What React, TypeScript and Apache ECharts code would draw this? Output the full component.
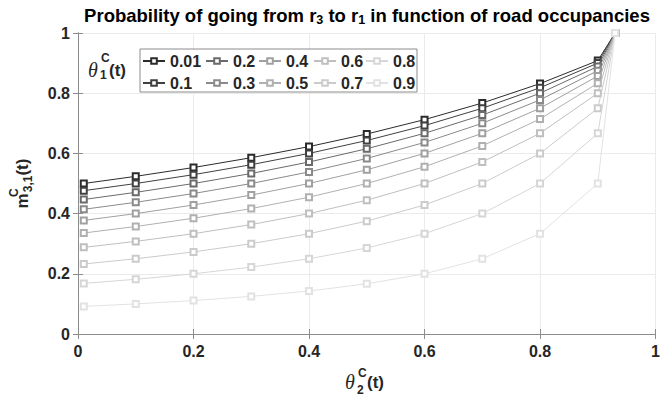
import React, { useEffect, useRef } from "react";
import * as echarts from "echarts";

const thetaLabels = ["0.01", "0.1", "0.2", "0.3", "0.4", "0.5", "0.6", "0.7", "0.8", "0.9"];
const xValues = [0.01, 0.1, 0.2, 0.3, 0.4, 0.5, 0.6, 0.7, 0.8, 0.9, 0.93];
const xTickLabels = ["0", "0.2", "0.4", "0.6", "0.8", "1"];
const yTickLabels = ["0", "0.2", "0.4", "0.6", "0.8", "1"];

const m001 = [0.5, 0.5238, 0.5531, 0.5858, 0.6226, 0.6644, 0.7122, 0.7674, 0.8319, 0.9083, 1];
const m01 = [0.4762, 0.5, 0.5294, 0.5625, 0.6, 0.6429, 0.6923, 0.75, 0.8182, 0.9, 1];
const m02 = [0.4469, 0.4706, 0.5, 0.5333, 0.5714, 0.6154, 0.6667, 0.7273, 0.8, 0.8889, 1];
const m03 = [0.4142, 0.4375, 0.4667, 0.5, 0.5385, 0.5833, 0.6364, 0.7, 0.7778, 0.875, 1];
const m04 = [0.3774, 0.4, 0.4286, 0.4615, 0.5, 0.5455, 0.6, 0.6667, 0.75, 0.8571, 1];
const m05 = [0.3356, 0.3571, 0.3846, 0.4167, 0.4545, 0.5, 0.5556, 0.625, 0.7143, 0.8333, 1];
const m06 = [0.2878, 0.3077, 0.3333, 0.3636, 0.4, 0.4444, 0.5, 0.5714, 0.6667, 0.8, 1];
const m07 = [0.2326, 0.25, 0.2727, 0.3, 0.3333, 0.375, 0.4286, 0.5, 0.6, 0.75, 1];
const m08 = [0.1681, 0.1818, 0.2, 0.2222, 0.25, 0.2857, 0.3333, 0.4, 0.5, 0.6667, 1];
const m09 = [0.0917, 0.1, 0.1111, 0.125, 0.1429, 0.1667, 0.2, 0.25, 0.3333, 0.5, 1];

const seriesValues = [m001, m01, m02, m03, m04, m05, m06, m07, m08, m09];
const lineColors = ["#2b2b2b", "#404040", "#6a6a6a", "#8a8a8a", "#a0a0a0", "#b0b0b0", "#bfbfbf", "#cbcbcb", "#d6d6d6", "#e2e2e2"];

const legendColumns = [["0.01", "0.1"], ["0.2", "0.3"], ["0.4", "0.5"], ["0.6", "0.7"], ["0.8", "0.9"]];
const legendLefts = [142, 205, 258, 313, 365];

const FONT = "Liberation Sans, Arial, sans-serif";
const TXT = "#262626";
const AX = "#8c8c8c";

export default function App() {
  const ref = useRef<HTMLDivElement>(null);
  useEffect(() => {
    if (!ref.current) return;
    const chart = echarts.init(ref.current, null, { renderer: "svg" });
    const axisCommon = {
      type: "value" as const,
      min: 0,
      max: 1,
      interval: 0.2,
      axisLine: { show: true, lineStyle: { color: AX, width: 1 } },
      axisTick: { show: true, inside: true, length: 5, lineStyle: { color: AX } },
    };
    const labelStyle = { color: TXT, fontSize: 16, fontWeight: "bold" as const, fontFamily: FONT };
    const option: any = {
      animation: false,
      backgroundColor: "#fff",
      grid: { left: 77, right: 6, top: 33, bottom: 66 },
      xAxis: [
        {
          ...axisCommon,
          position: "bottom",
          splitLine: { show: true, lineStyle: { color: "#ebebeb" } },
          axisLabel: { ...labelStyle, margin: 9, formatter: (v: number) => xTickLabels[Math.round(v / 0.2)] },
        },
        {
          ...axisCommon,
          position: "top",
          splitLine: { show: false },
          axisLabel: { show: false },
        },
      ],
      yAxis: [
        {
          ...axisCommon,
          position: "left",
          splitLine: { show: true, lineStyle: { color: "#ebebeb" } },
          axisLabel: { ...labelStyle, margin: 8, formatter: (v: number) => yTickLabels[Math.round(v / 0.2)] },
          name: "m{sup|C}{sub|3,1}(t)",
          nameLocation: "middle",
          nameRotate: 90,
          nameGap: 42,
          nameTextStyle: {
            color: TXT,
            fontSize: 17,
            fontWeight: "bold",
            fontFamily: FONT,
            lineHeight: 28,
            rich: {
              sup: { color: TXT, fontSize: 12, fontWeight: "bold", fontFamily: FONT, lineHeight: 12, verticalAlign: "top", width: 1 },
              sub: { color: TXT, fontSize: 12, fontWeight: "bold", fontFamily: FONT, lineHeight: 12, verticalAlign: "bottom", padding: [0, 0, 2, 0] },
            },
          },
        },
        {
          ...axisCommon,
          position: "right",
          splitLine: { show: false },
          axisLabel: { show: false },
        },
      ],
      legend: legendColumns.map((names, i) => ({
        orient: "vertical",
        left: legendLefts[i],
        top: 53,
        padding: 0,
        itemGap: 6,
        itemWidth: 22,
        itemHeight: 7,
        data: names,
        textStyle: { ...labelStyle, lineHeight: 16 },
      })),
      series: thetaLabels.map((name, i) => ({
        name,
        type: "line",
        xAxisIndex: 0,
        yAxisIndex: 0,
        data: xValues.map((x, j) => [x, seriesValues[i][j]]),
        symbol: "emptyRect",
        symbolSize: 6,
        showAllSymbol: true,
        lineStyle: { color: lineColors[i], width: 1 },
        itemStyle: { color: lineColors[i], borderWidth: 1 },
        z: 2 + i * 0.01,
      })),
      graphic: [
        {
          type: "rect",
          shape: { x: 140, y: 49, width: 277, height: 43 },
          style: { fill: "#fff", stroke: AX, lineWidth: 1 },
          z: 3,
        },
        {
          type: "text",
          x: 367,
          y: 15,
          style: {
            text: "Probability of going from r{s|3} to r{s|1} in function of road occupancies",
            fontSize: 18.5,
            fontWeight: "bold",
            fontFamily: FONT,
            fill: "#000",
            textAlign: "center",
            textVerticalAlign: "middle",
            lineHeight: 22,
            rich: {
              s: { fontSize: 12.5, fontWeight: "bold", fontFamily: FONT, fill: "#000", lineHeight: 11, verticalAlign: "bottom" },
            },
          },
          z: 10,
        },
        // legend title theta_1^C(t)
        { type: "text", x: 88, y: 70, style: { text: "θ", fontSize: 20, fontStyle: "italic", fontFamily: "Liberation Serif, serif", fill: TXT, textVerticalAlign: "middle" }, z: 10 },
        { type: "text", x: 101, y: 58, style: { text: "C", fontSize: 12, fontWeight: "bold", fontFamily: FONT, fill: TXT, textVerticalAlign: "middle" }, z: 10 },
        { type: "text", x: 100, y: 75, style: { text: "1", fontSize: 12, fontWeight: "bold", fontFamily: FONT, fill: TXT, textVerticalAlign: "middle" }, z: 10 },
        { type: "text", x: 109, y: 70, style: { text: "(t)", fontSize: 17, fontWeight: "bold", fontFamily: FONT, fill: TXT, textVerticalAlign: "middle" }, z: 10 },
        // x-axis name theta_2^C(t)
        { type: "text", x: 345, y: 382, style: { text: "θ", fontSize: 20, fontStyle: "italic", fontFamily: "Liberation Serif, serif", fill: TXT, textVerticalAlign: "middle" }, z: 10 },
        { type: "text", x: 358, y: 373, style: { text: "C", fontSize: 12, fontWeight: "bold", fontFamily: FONT, fill: TXT, textVerticalAlign: "middle" }, z: 10 },
        { type: "text", x: 357, y: 390, style: { text: "2", fontSize: 12, fontWeight: "bold", fontFamily: FONT, fill: TXT, textVerticalAlign: "middle" }, z: 10 },
        { type: "text", x: 367, y: 382, style: { text: "(t)", fontSize: 17, fontWeight: "bold", fontFamily: FONT, fill: TXT, textVerticalAlign: "middle" }, z: 10 },
      ],
    };
    chart.setOption(option);
    return () => chart.dispose();
  }, []);
  return <div ref={ref} style={{ width: 663, height: 400, position: "absolute", left: 0, top: 0 }} />;
}
